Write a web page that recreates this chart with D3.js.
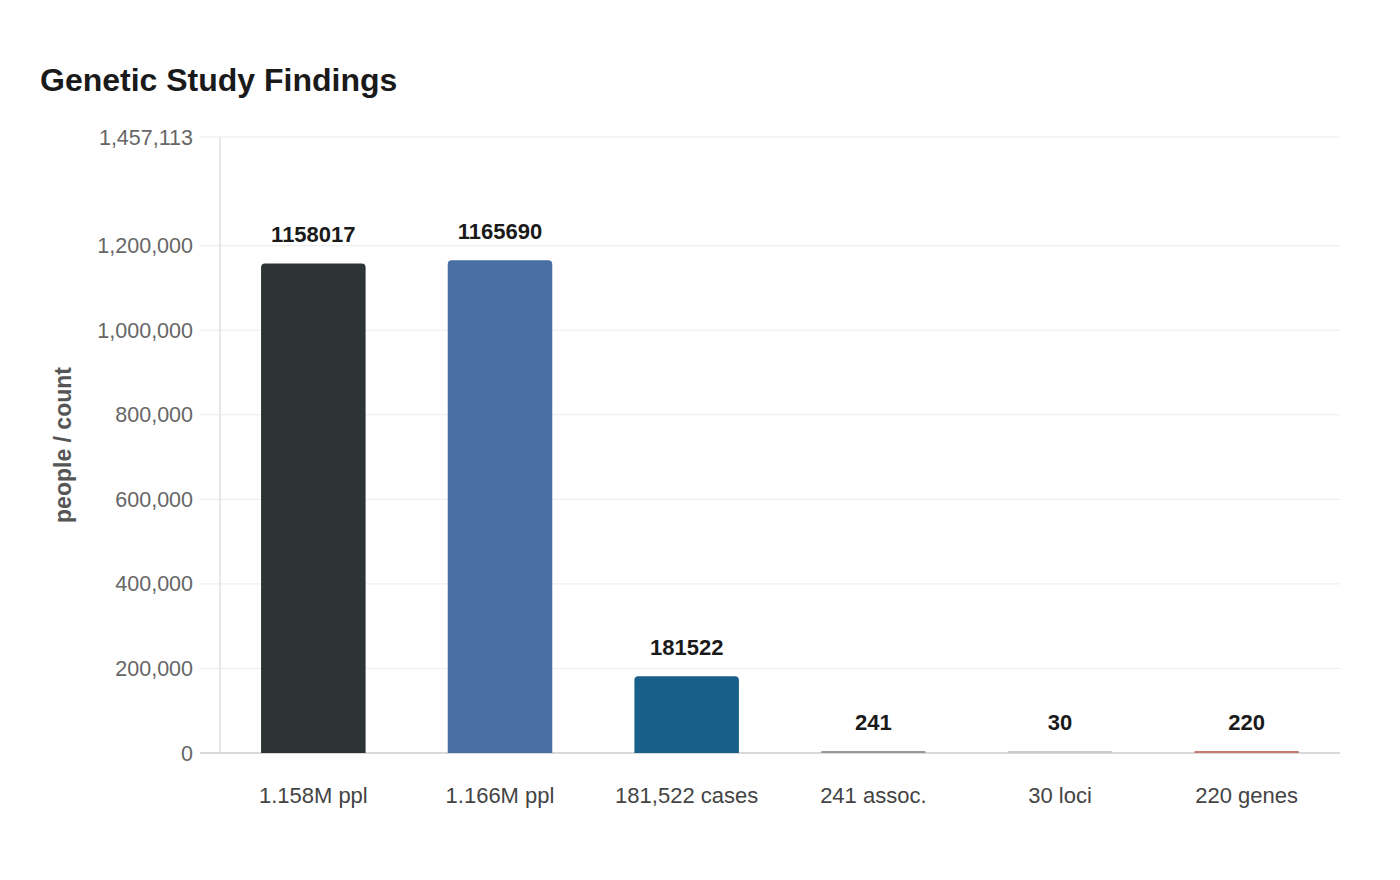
<!DOCTYPE html>
<html>
<head>
<title>Genetic Study Findings</title>
<style>
body {
  margin: 0;
  background: #fff;
}
#chart text {
  font-family: "Liberation Sans", Arial, Helvetica, sans-serif;
}
</style>
<script src="https://d3js.org/d3.v7.min.js"></script>
</head>
<body>
<svg id="chart" width="1400" height="880"></svg>
<script>
const categories = ["1.158M ppl", "1.166M ppl", "181,522 cases", "241 assoc.", "30 loci", "220 genes"];
const values = [1158017, 1165690, 181522, 241, 30, 220];
const colors = ["#2d3436", "#4a6fa5", "#186089", "#999999", "#cccccc", "#c97a72"];
const yTicks = [0, 200000, 400000, 600000, 800000, 1000000, 1200000];

const svg = d3.select("#chart");
const margin = { left: 220, right: 60, top: 137, bottom: 127 };
const width = 1400 - margin.left - margin.right;
const height = 880 - margin.top - margin.bottom;

const yMax = d3.max(values) * 1.25;

const x = d3.scaleBand().domain(categories).range([0, width]).paddingInner(0.44).paddingOuter(0.22);
const y = d3.scaleLinear().domain([0, yMax]).range([height, 0]);

svg.append("text")
  .attr("x", 40).attr("y", 91)
  .attr("font-size", 32).attr("font-weight", "bold").attr("fill", "#1a1a1a")
  .text("Genetic Study Findings");

const g = svg.append("g").attr("transform", `translate(${margin.left},${margin.top})`);

// grid + y ticks
const ticks = yTicks.concat([yMax]);
g.selectAll(".grid").data(ticks).enter().append("line")
  .attr("x1", -20).attr("x2", width)
  .attr("y1", d => y(d)).attr("y2", d => y(d))
  .attr("stroke", d => d === 0 ? "#cccccc" : "#ebebeb").attr("stroke-width", d => d === 0 ? 1.5 : 1);

g.selectAll(".ylab").data(ticks).enter().append("text")
  .attr("x", -27).attr("y", d => y(d)).attr("dy", "0.35em")
  .attr("text-anchor", "end").attr("font-size", 21.5).attr("fill", "#666")
  .text(d => d3.format(",")(Math.round(d)));

g.append("line").attr("x1", 0).attr("x2", 0).attr("y1", 0).attr("y2", height)
  .attr("stroke", "#e0e0e0").attr("stroke-width", 1.5);

// bars with rounded top corners, min height 2px
const r = 4;
function barPath(d, i) {
  const x0 = x(categories[i]);
  const w = x.bandwidth();
  const h = Math.max(2, height - y(d));
  const rr = Math.min(r, h / 2);
  const top = height - h;
  return `M${x0},${height}V${top + rr}Q${x0},${top} ${x0 + rr},${top}H${x0 + w - rr}Q${x0 + w},${top} ${x0 + w},${top + rr}V${height}Z`;
}
g.selectAll(".bar").data(values).enter().append("path")
  .attr("d", barPath)
  .attr("fill", (d, i) => colors[i]);

g.selectAll(".val").data(values).enter().append("text")
  .attr("x", (d, i) => x(categories[i]) + x.bandwidth() / 2)
  .attr("y", d => Math.min(y(d), height - 2) - 21)
  .attr("text-anchor", "middle").attr("font-size", 22).attr("font-weight", "bold").attr("fill", "#1a1a1a")
  .text(d => d);

g.selectAll(".xlab").data(categories).enter().append("text")
  .attr("x", d => x(d) + x.bandwidth() / 2)
  .attr("y", height + 50)
  .attr("text-anchor", "middle").attr("font-size", 22).attr("fill", "#444")
  .text(d => d);

svg.append("text")
  .attr("transform", "translate(71,445) rotate(-90)")
  .attr("text-anchor", "middle").attr("font-size", 23).attr("font-weight", "bold").attr("fill", "#555")
  .text("people / count");
</script>
</body>
</html>
